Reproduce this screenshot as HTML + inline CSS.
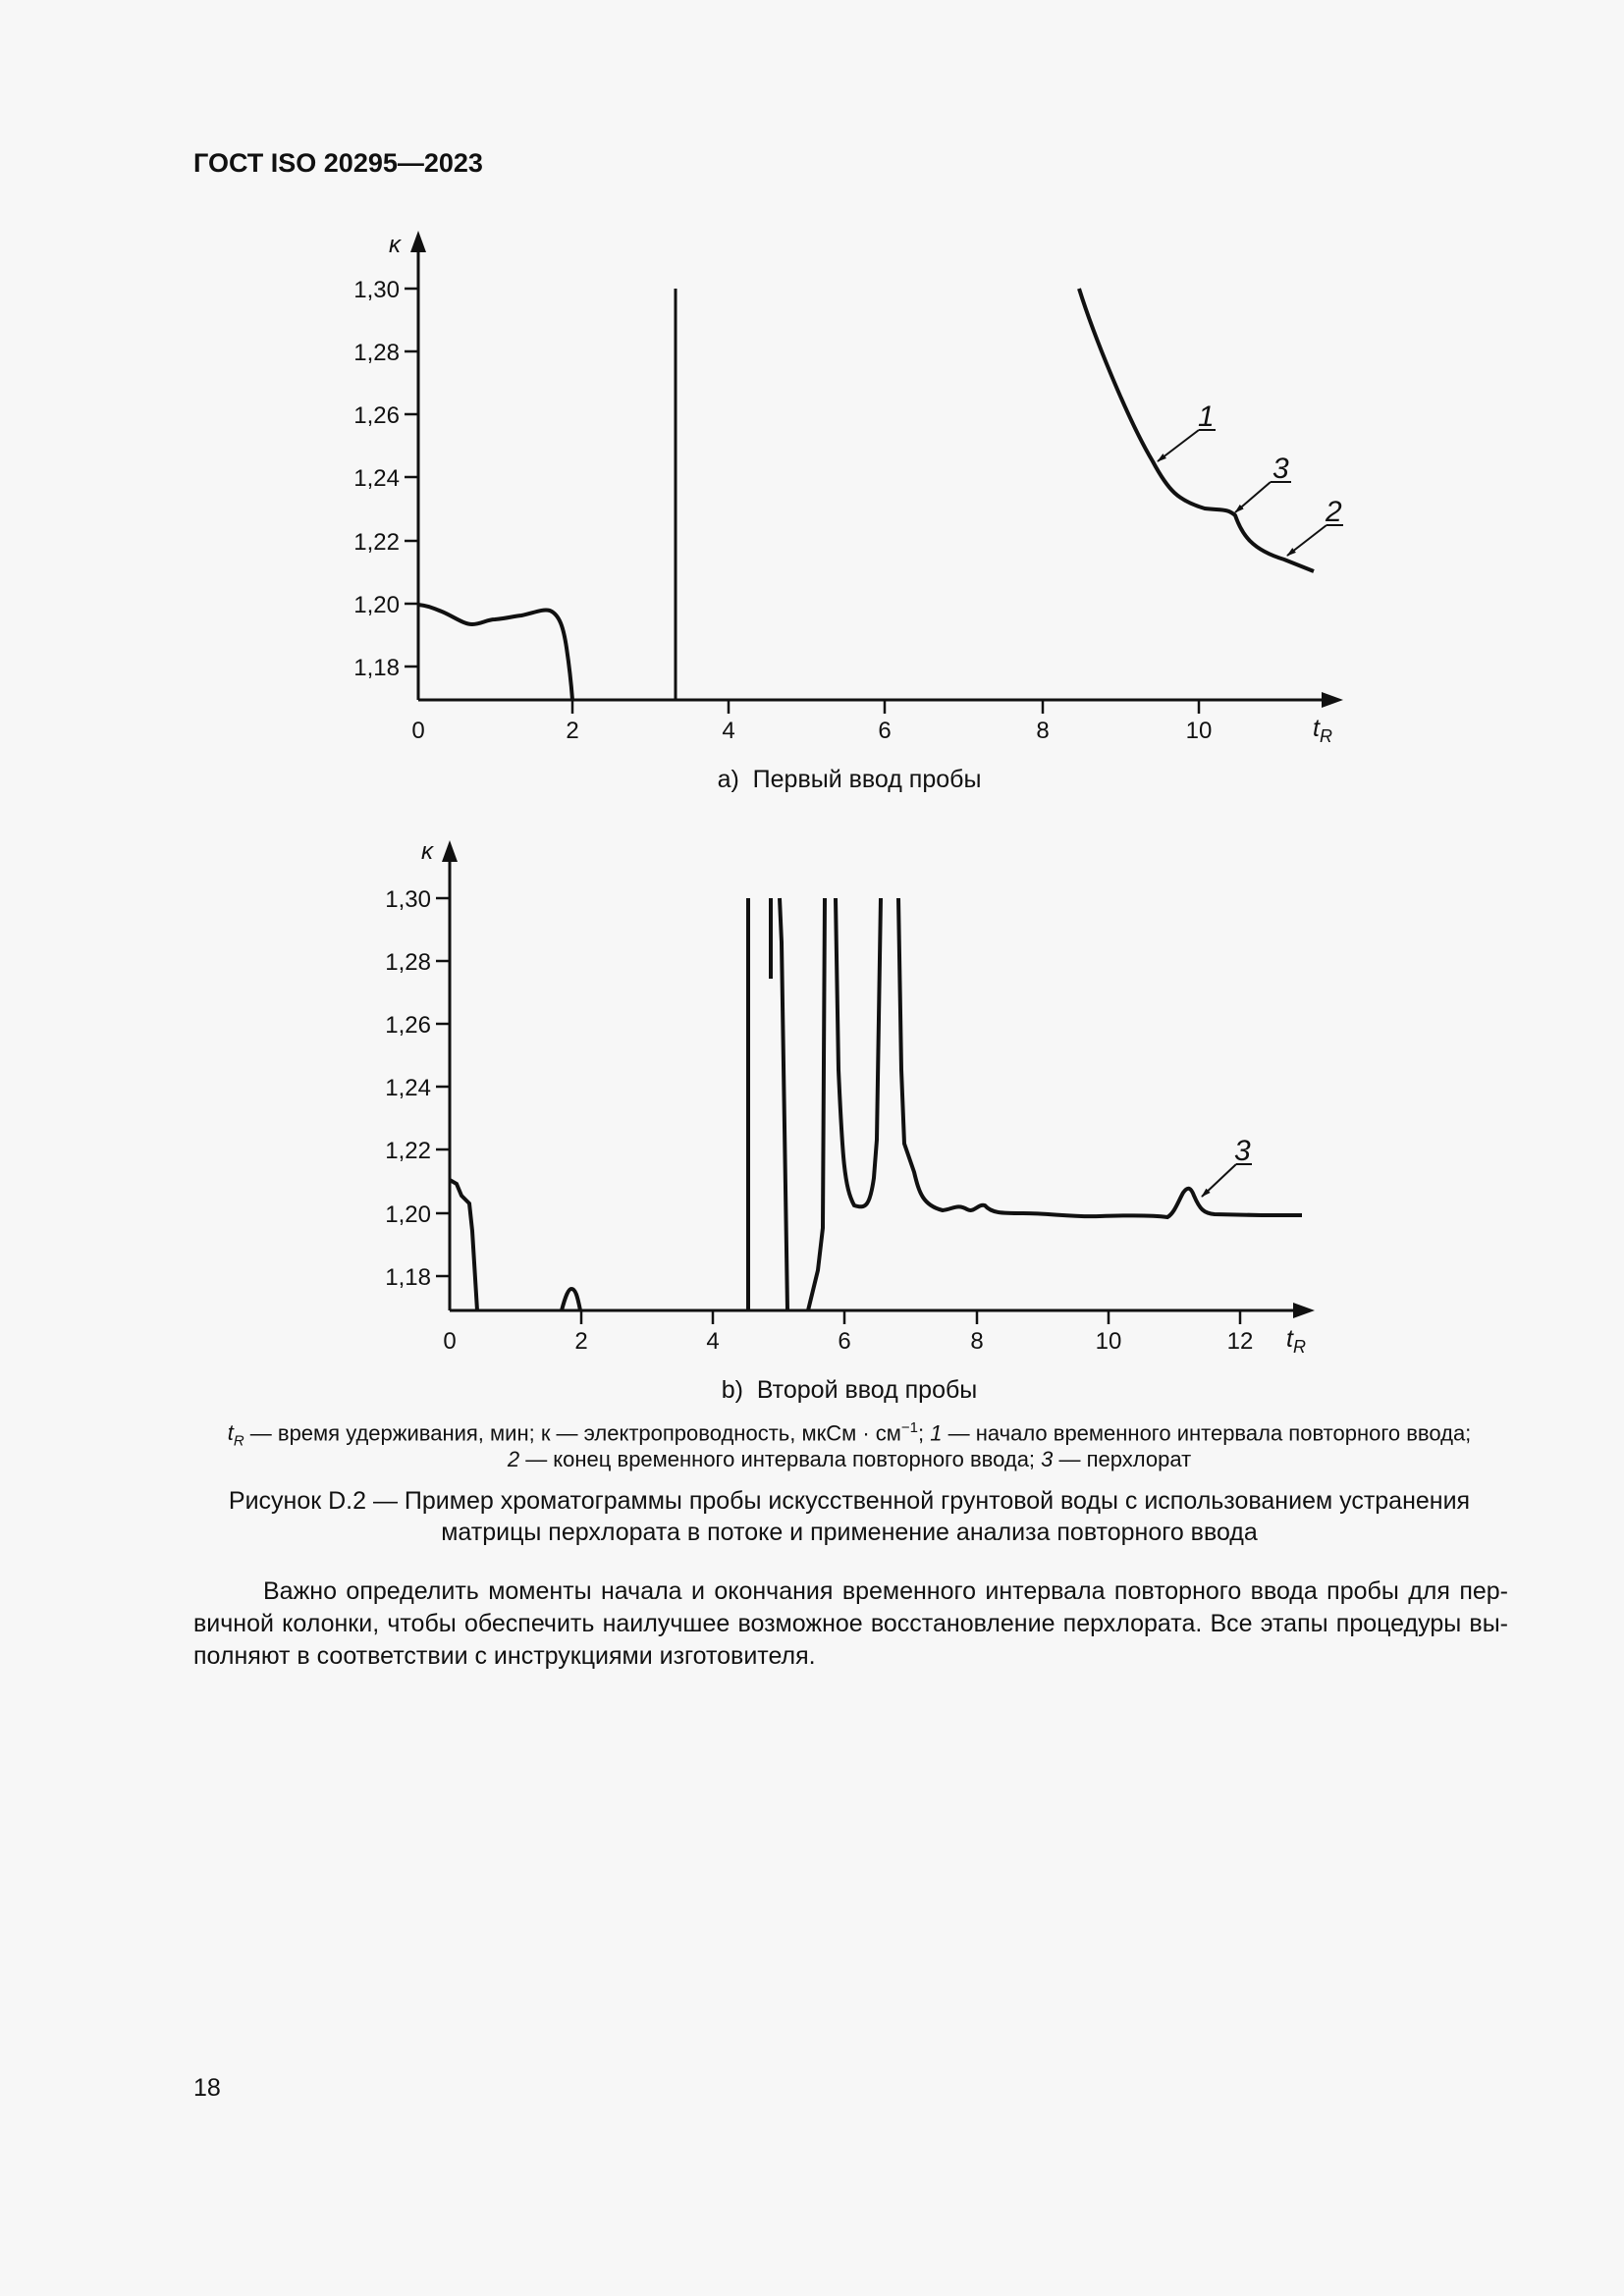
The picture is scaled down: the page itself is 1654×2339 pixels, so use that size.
<!DOCTYPE html>
<html><head><meta charset="utf-8"><style>
body{margin:0;background:#f7f7f7;}
.p{position:relative;width:1654px;height:2339px;background:#f7f7f7;font-family:"Liberation Sans",sans-serif;color:#111;}
.t{position:absolute;white-space:nowrap;}
.j{position:absolute;left:197px;width:1339px;font-size:25px;text-align:justify;text-align-last:justify;white-space:nowrap;}
</style></head><body><div class="p">
<div class="t" style="left:197px;top:151px;font-size:27px;font-weight:bold;">ГОСТ ISO 20295—2023</div>
<svg width="1654" height="2339" style="position:absolute;left:0;top:0" font-family="Liberation Sans, sans-serif" font-size="24">
<defs><marker id="ar" markerWidth="10" markerHeight="10" refX="9" refY="5" orient="auto" markerUnits="userSpaceOnUse"><path d="M0,2 L10,5 L0,8 Z" fill="#111"/></marker></defs>
<g stroke="#111" fill="none">
<line x1="426" y1="713" x2="1350" y2="713" stroke-width="3"/>
<path d="M1368,713 L1346,705 L1346,721 Z" fill="#111" stroke="none"/>
<line x1="426" y1="713" x2="426" y2="252" stroke-width="3"/>
<path d="M426,235 L418,257 L434,257 Z" fill="#111" stroke="none"/>
<g stroke-width="2.5">
<line x1="412" y1="294" x2="426" y2="294"/><line x1="412" y1="358" x2="426" y2="358"/><line x1="412" y1="422" x2="426" y2="422"/><line x1="412" y1="486" x2="426" y2="486"/><line x1="412" y1="551" x2="426" y2="551"/><line x1="412" y1="615" x2="426" y2="615"/><line x1="412" y1="679" x2="426" y2="679"/>
<line x1="583" y1="713" x2="583" y2="727"/><line x1="742" y1="713" x2="742" y2="727"/><line x1="901" y1="713" x2="901" y2="727"/><line x1="1062" y1="713" x2="1062" y2="727"/><line x1="1221" y1="713" x2="1221" y2="727"/>
</g>
<path d="M426,616 C436,617 442,620 450,623 C462,628 472,636 481,636 C490,636 496,631 504,631 C515,630 522,628 531,627 C542,625 552,620 560,622 C570,626 574,640 577,660 C580,680 582,700 583,713" stroke-width="4"/>
<line x1="688" y1="294" x2="688" y2="713" stroke-width="3"/>
<path d="M1099,294 C1115,345 1150,430 1174,470 C1190,500 1200,510 1227,518 C1245,520 1250,518 1258,525 C1265,545 1275,560 1308,570 L1338,582" stroke-width="4"/>
<g stroke-width="2"><line x1="1221" y1="438" x2="1238" y2="438"/><line x1="1221" y1="438" x2="1179" y2="470" marker-end="url(#ar)"/>
<line x1="1294" y1="491" x2="1315" y2="491"/><line x1="1294" y1="491" x2="1258" y2="522" marker-end="url(#ar)"/>
<line x1="1351" y1="535" x2="1368" y2="535"/><line x1="1351" y1="535" x2="1311" y2="566" marker-end="url(#ar)"/></g>
<line x1="458" y1="1335" x2="1320" y2="1335" stroke-width="3"/>
<path d="M1339,1335 L1317,1327 L1317,1343 Z" fill="#111" stroke="none"/>
<line x1="458" y1="1335" x2="458" y2="872" stroke-width="3"/>
<path d="M458,856 L450,878 L466,878 Z" fill="#111" stroke="none"/>
<g stroke-width="2.5">
<line x1="444" y1="915" x2="458" y2="915"/><line x1="444" y1="979" x2="458" y2="979"/><line x1="444" y1="1043" x2="458" y2="1043"/><line x1="444" y1="1107" x2="458" y2="1107"/><line x1="444" y1="1171" x2="458" y2="1171"/><line x1="444" y1="1236" x2="458" y2="1236"/><line x1="444" y1="1300" x2="458" y2="1300"/>
<line x1="592" y1="1335" x2="592" y2="1349"/><line x1="726" y1="1335" x2="726" y2="1349"/><line x1="860" y1="1335" x2="860" y2="1349"/><line x1="995" y1="1335" x2="995" y2="1349"/><line x1="1129" y1="1335" x2="1129" y2="1349"/><line x1="1263" y1="1335" x2="1263" y2="1349"/>
</g>
<g stroke-width="4">
<path d="M458,1202 L465,1206 L470,1218 L478,1226 L481,1254 L486,1335"/>
<path d="M572,1335 C576,1320 579,1313 582,1313 C586,1313 588,1320 591,1335"/>
<line x1="762" y1="915" x2="762" y2="1335"/>
<line x1="785" y1="915" x2="785" y2="997"/>
<path d="M794,915 L796,960 L802,1335"/>
<path d="M823,1335 L833,1294 L838,1251 L840,915"/>
<path d="M851,915 L854,1090 C858,1180 860,1210 870,1228 C882,1232 886,1228 890,1200 L893,1161 L897,915"/>
<path d="M915,915 L918,1090 L921,1165 L931,1194 C936,1215 940,1228 960,1233 C970,1232 975,1226 985,1232 C992,1236 996,1226 1003,1228 C1010,1236 1020,1236 1042,1236 C1070,1236 1090,1240 1120,1239 C1150,1238 1175,1238 1189,1240 C1196,1236 1200,1224 1205,1215 C1210,1208 1213,1210 1216,1218 C1222,1232 1226,1236 1237,1237 L1285,1238 L1326,1238"/>
</g>
<g stroke-width="2"><line x1="1259" y1="1186" x2="1275" y2="1186"/><line x1="1259" y1="1186" x2="1224" y2="1219" marker-end="url(#ar)"/></g>
</g>
<g fill="#111">
<g text-anchor="end"><text x="407" y="303">1,30</text><text x="407" y="367">1,28</text><text x="407" y="431">1,26</text><text x="407" y="495">1,24</text><text x="407" y="560">1,22</text><text x="407" y="624">1,20</text><text x="407" y="688">1,18</text>
<text x="439" y="924">1,30</text><text x="439" y="988">1,28</text><text x="439" y="1052">1,26</text><text x="439" y="1116">1,24</text><text x="439" y="1180">1,22</text><text x="439" y="1245">1,20</text><text x="439" y="1309">1,18</text></g>
<g text-anchor="middle"><text x="426" y="752">0</text><text x="583" y="752">2</text><text x="742" y="752">4</text><text x="901" y="752">6</text><text x="1062" y="752">8</text><text x="1221" y="752">10</text>
<text x="458" y="1374">0</text><text x="592" y="1374">2</text><text x="726" y="1374">4</text><text x="860" y="1374">6</text><text x="995" y="1374">8</text><text x="1129" y="1374">10</text><text x="1263" y="1374">12</text></g>
<text x="396" y="257" font-style="italic">κ</text><text x="429" y="875" font-style="italic">κ</text>
<text x="1337" y="750" font-style="italic" font-size="25">t<tspan font-size="18" dy="6">R</tspan></text>
<text x="1310" y="1372" font-style="italic" font-size="25">t<tspan font-size="18" dy="6">R</tspan></text>
<g font-style="italic" font-size="30"><text x="1220" y="434">1</text><text x="1296" y="487">3</text><text x="1350" y="531">2</text><text x="1257" y="1182">3</text></g>
</g>
</svg>
<div class="t" style="left:0;width:1730px;text-align:center;top:780px;font-size:25px;">a)&nbsp; Первый ввод пробы</div>
<div class="t" style="left:0;width:1730px;text-align:center;top:1402px;font-size:25px;">b)&nbsp; Второй ввод пробы</div>
<div class="t" style="left:0;width:1730px;text-align:center;top:1446px;font-size:22px;"><i>t<sub style="font-size:15px">R</sub></i> — время удерживания, мин; к — электропроводность, мкСм · см<sup style="font-size:15px">−1</sup>; <i>1</i> — начало временного интервала повторного ввода;</div>
<div class="t" style="left:0;width:1730px;text-align:center;top:1474px;font-size:22px;"><i>2</i> — конец временного интервала повторного ввода; <i>3</i> — перхлорат</div>
<div class="t" style="left:0;width:1730px;text-align:center;top:1515px;font-size:25px;">Рисунок D.2 — Пример хроматограммы пробы искусственной грунтовой воды с использованием устранения</div>
<div class="t" style="left:0;width:1730px;text-align:center;top:1547px;font-size:25px;">матрицы перхлората в потоке и применение анализа повторного ввода</div>
<div class="j" style="top:1607px;left:268px;width:1268px;">Важно определить моменты начала и окончания временного интервала повторного ввода пробы для пер-</div>
<div class="j" style="top:1640px;">вичной колонки, чтобы обеспечить наилучшее возможное восстановление перхлората. Все этапы процедуры вы-</div>
<div class="t" style="top:1673px;left:197px;font-size:25px;">полняют в соответствии с инструкциями изготовителя.</div>
<div class="t" style="left:197px;top:2113px;font-size:25px;">18</div>
</div></body></html>
